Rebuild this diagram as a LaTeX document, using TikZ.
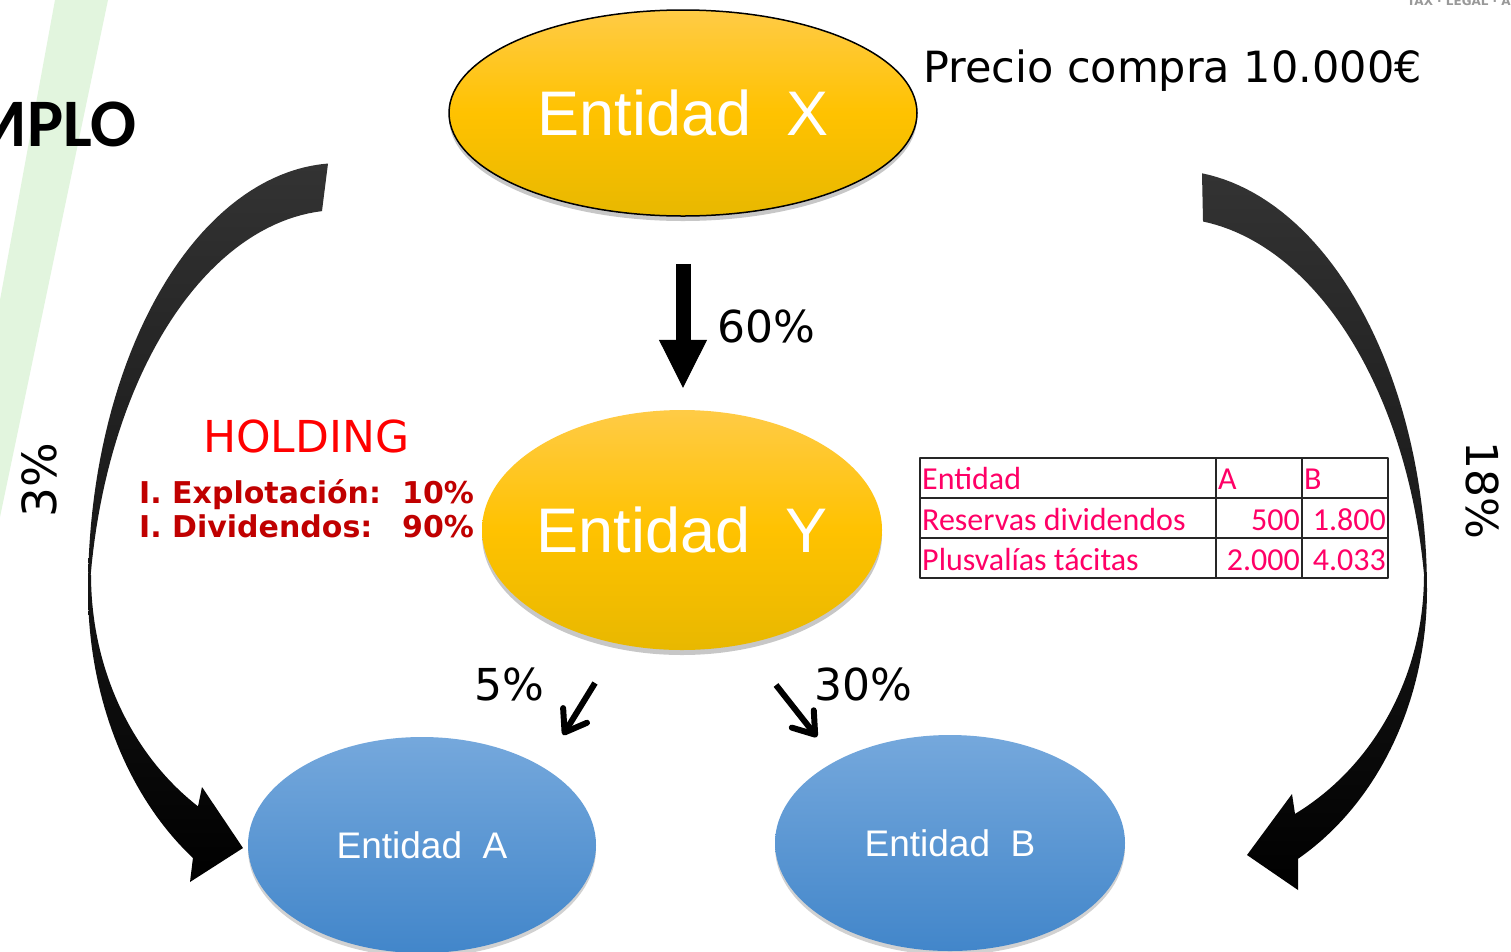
\documentclass[tikz,border=0pt]{standalone}
\usepackage{fontspec}
\setmainfont{DejaVu Sans}
\newfontfamily\arialfont{Liberation Sans}
\newfontfamily\calibrifont{Carlito}
\usepackage{tikz}
\usetikzlibrary{arrows.meta,shapes.geometric,shadows}
\definecolor{goldtop}{RGB}{255,203,70}
\definecolor{goldmid}{RGB}{255,194,0}
\definecolor{goldbot}{RGB}{232,184,0}
\definecolor{bluetop}{RGB}{117,168,220}
\definecolor{bluebot}{RGB}{66,134,202}
\definecolor{tablepink}{RGB}{255,0,102}
\definecolor{holdred}{RGB}{192,0,0}
\definecolor{stripegreen}{RGB}{226,245,222}
\tikzset{
  every picture/.append style={line join=round},
  gold oval/.style={ellipse,inner sep=0pt,top color=goldtop,bottom color=goldbot,middle color=goldmid,
    text=white,font=\arialfont\fontsize{63}{63}\selectfont,
    drop shadow={shadow xshift=0pt,shadow yshift=-5pt,opacity=.22,fill=black}},
  blue oval/.style={ellipse,inner sep=0pt,top color=bluetop,bottom color=bluebot,
    text=white,font=\arialfont\fontsize{37}{37}\selectfont,
    drop shadow={shadow xshift=0pt,shadow yshift=-4pt,opacity=.18,fill=black}},
  big curve/.style={top color=black!80,bottom color=black},
  big down/.style={line width=15pt,-{Triangle[length=48pt,width=48pt,line width=1pt]}},
  small arrow/.style={line width=6pt,-{Straight Barb[length=20pt,width=28pt,round]}},
  cell/.style={font=\calibrifont\fontsize{32}{32}\selectfont,text=tablepink,inner sep=0pt},
  rule/.style={line width=1.4pt,black!85}
}

\begin{document}
\begin{tikzpicture}[x=1pt,y=-1pt,
  pct/.style={font=\fontsize{44}{44}\selectfont,inner sep=0pt,anchor=base west},
  hold/.style={font=\bfseries\fontsize{30}{30}\selectfont,text=holdred,inner sep=0pt,anchor=base west}
]
\useasboundingbox (0,0) rectangle (1511,951);
\fill[white] (0,0) rectangle (1511,951);
\clip (0,0) rectangle (1511,951);
\fill[stripegreen] (55,0) -- (108,0) -- (0,517) -- (0,300) -- cycle;

\node[font=\calibrifont\bfseries\fontsize{68}{68}\selectfont,inner sep=0pt,anchor=base east] (title) at (137,146) {MPLO};
\node[font=\bfseries\fontsize{12}{12}\selectfont,text=black!40,inner sep=0pt,anchor=base west] (brand) at (1407,5) {TAX · LEGAL · A};

% curved arrows
\shade[big curve] plot[domain=-92.73:-180,samples=50] ({340+252*cos(\x)},{590+427*sin(\x)})
  -- plot[domain=180:125.7,samples=40] ({340+252*cos(\x)},{590+330*sin(\x)})
  -- (190,882) -- (243,848) -- (202,787)
  -- plot[domain=124.28:180,samples=40] ({336+245*cos(\x)},{575+280*sin(\x)})
  -- plot[domain=-171.65:-94.1,samples=50] ({340+252*cos(\x)},{637+427*sin(\x)})
  -- cycle;
\shade[big curve] plot[domain=-82.85:0,samples=50] ({1170+257*cos(\x)},{590+420*sin(\x)})
  -- plot[domain=0:60.1,samples=40] ({1170+257*cos(\x)},{590+310*sin(\x)})
  -- (1298,890) -- (1247,855) -- (1292,794)
  -- plot[domain=61.05:0,samples=40] ({1174+250*cos(\x)},{575+273*sin(\x)})
  -- plot[domain=-8.63:-82.62,samples=50] ({1170+257*cos(\x)},{638+420*sin(\x)})
  -- cycle;

\node[gold oval,draw=black,line width=1.5pt,minimum width=468pt,minimum height=206pt] (entX) at (683,113) {\makebox[0pt]{Entidad\ \ X}};
\node[gold oval,minimum width=400pt,minimum height=240pt] (entY) at (682,530) {\makebox[0pt]{Entidad\ \ Y}};
\node[blue oval,minimum width=348pt,minimum height=216pt] (entA) at (422,845) {\makebox[0pt]{Entidad\ \ A}};
\node[blue oval,minimum width=350pt,minimum height=216pt] (entB) at (950,843) {\makebox[0pt]{Entidad\ \ B}};

\draw[big down] ([yshift=-47pt]entX.south) -- ([yshift=22pt]entX.south |- entY.north);
\coordinate (fiveS) at (595,683);
\coordinate (fiveE) at (563,735);
\coordinate (thirtyS) at (776,685);
\coordinate (thirtyE) at (817,737);
\draw[small arrow] (fiveS) -- (fiveE);
\draw[small arrow] (thirtyS) -- (thirtyE);

\node[pct] (pctX) at (717,342) {60\%};
\node[pct] (pctA) at (474,700) {5\%};
\node[pct] (pctB) at (814,700) {30\%};
\node[pct,font=\fontsize{47}{47}\selectfont,rotate=90] (pctL) at (56,518) {3\%};
\node[pct,rotate=-90] (pctR) at (1466,441) {18\%};
\node[pct,font=\fontsize{43}{43}\selectfont] (price) at (923,82) {Precio compra 10.000€};

\node[pct,text=red] (holding) at (203,452) {HOLDING};
\node[hold] (holdE) at (139,503) {\makebox[263pt][l]{I. Explotación:}10\%};
\node[hold] (holdD) at (139,537) {\makebox[263pt][l]{I. Dividendos:}90\%};

\draw[rule] (920,458) rectangle (1388,578);
\draw[rule] (920,498) -- (1388,498) (920,538) -- (1388,538)
  (1216,458) -- (1216,578) (1302,458) -- (1302,578);
\node[cell,anchor=base west] (cEnt) at (922,489) {Entidad};
\node[cell,anchor=base west] (cA) at (1218,489) {A};
\node[cell,anchor=base west] (cB) at (1304,489) {B};
\node[cell,anchor=base west] (cRes) at (922,530) {Reservas dividendos};
\node[cell,anchor=base east] (cResA) at (1300,530) {500};
\node[cell,anchor=base east] (cResB) at (1386,530) {1.800};
\node[cell,anchor=base west] (cPlus) at (922,570) {Plusvalías tácitas};
\node[cell,anchor=base east] (cPlusA) at (1300,570) {2.000};
\node[cell,anchor=base east] (cPlusB) at (1386,570) {4.033};
\end{tikzpicture}
\end{document}
